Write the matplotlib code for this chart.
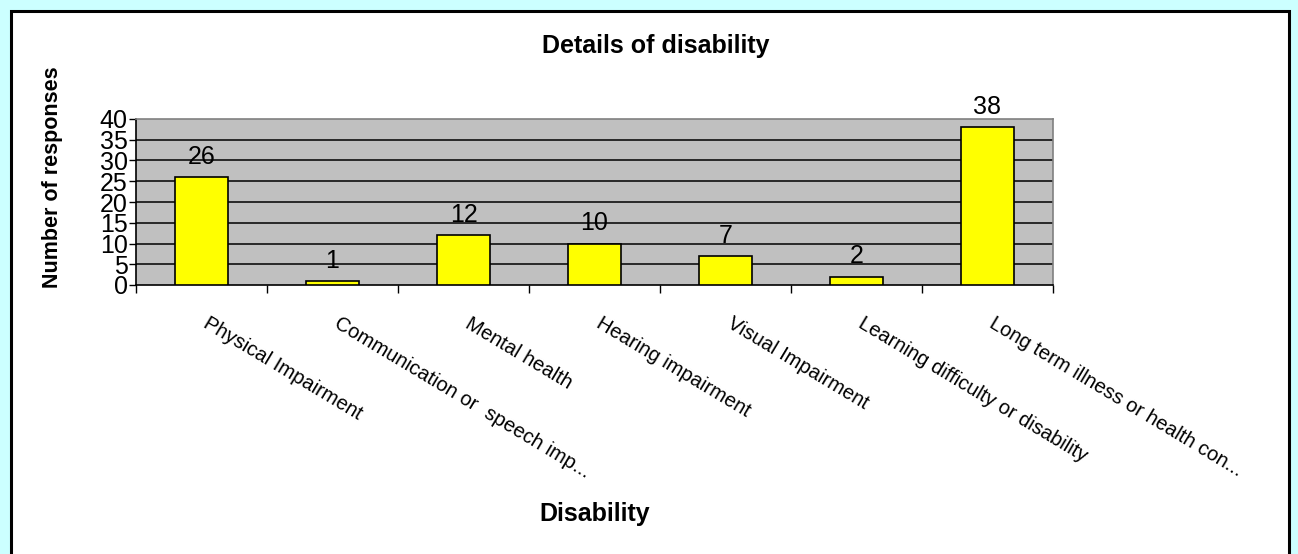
import matplotlib
matplotlib.use("Agg")
import matplotlib.pyplot as plt
from matplotlib.patches import Rectangle
from matplotlib.transforms import ScaledTranslation

categories = ["Physical Impairment", "Communication or  speech imp...", "Mental health",
              "Hearing impairment", "Visual Impairment", "Learning difficulty or disability",
              "Long term illness or health con..."]
values = [26, 1, 12, 10, 7, 2, 38]
yticks = [0, 5, 10, 15, 20, 25, 30, 35, 40]

plt.rcParams['font.family'] = ['Liberation Sans', 'DejaVu Sans']

W, H = 1298, 554
fig = plt.figure(figsize=(W / 100, H / 100), dpi=100)
fig.patch.set_facecolor('#CCFFFF')

# inner white panel with black border
panel = Rectangle((11 / W, -0.05), (1289 - 11) / W, (H - 11) / H + 0.05,
                  transform=fig.transFigure, facecolor='white', edgecolor='black',
                  linewidth=2.2, zorder=-10)
fig.patches.append(panel)

left, right, top, bottom = 136, 1053, 119, 285
ax = fig.add_axes([left / W, 1 - bottom / H, (right - left) / W, (bottom - top) / H])
ax.set_facecolor('#C0C0C0')

n = len(categories)
x = list(range(n))
ax.bar(x, values, width=0.4, color='#FFFF00', edgecolor='black', linewidth=1.2, zorder=3)
ax.set_xlim(-0.5, n - 0.5)
ax.set_ylim(0, 40)

for yv in yticks[1:-1]:
    ax.axhline(yv, color='black', linewidth=1.1, zorder=1)

for sp in ['top', 'right']:
    ax.spines[sp].set_color('#808080')
    ax.spines[sp].set_linewidth(1.2)
for sp in ['left', 'bottom']:
    ax.spines[sp].set_color('black')
    ax.spines[sp].set_linewidth(1.2)

ax.set_yticks(yticks)
ax.set_yticklabels([str(v) for v in yticks], fontsize=18)
ax.tick_params(axis='y', direction='out', length=5, width=1, pad=1)

# boundary ticks (major), labels at centers (minor)
ax.set_xticks([i - 0.5 for i in range(n + 1)])
ax.set_xticklabels([])
ax.tick_params(axis='x', which='major', direction='out', length=6, width=1)
ax.set_xticks(x, minor=True)
ax.set_xticklabels(categories, minor=True, rotation=-31, ha='left', va='top',
                   rotation_mode='anchor', fontsize=14.5)
ax.tick_params(axis='x', which='minor', length=0, pad=21)
for lbl in ax.get_xticklabels(minor=True):
    lbl.set_transform(lbl.get_transform() + ScaledTranslation(8 / 100, 0, fig.dpi_scale_trans))

for xi, v in zip(x, values):
    ax.annotate(str(v), (xi, v), xytext=(0, 6), textcoords='offset points',
                ha='center', va='bottom', fontsize=18, zorder=4)

fig.text(656 / W, 1 - 46 / H, "Details of disability", ha='center', va='center',
         fontsize=18, fontweight='bold')
fig.text(53 / W, 1 - 177 / H, "Number of responses", ha='center', va='center',
         rotation=90, fontsize=15.5, fontweight='bold')
fig.text(595 / W, 1 - 514 / H, "Disability", ha='center', va='center',
         fontsize=18, fontweight='bold')

fig.savefig('out.png', dpi=100, facecolor=fig.get_facecolor())
